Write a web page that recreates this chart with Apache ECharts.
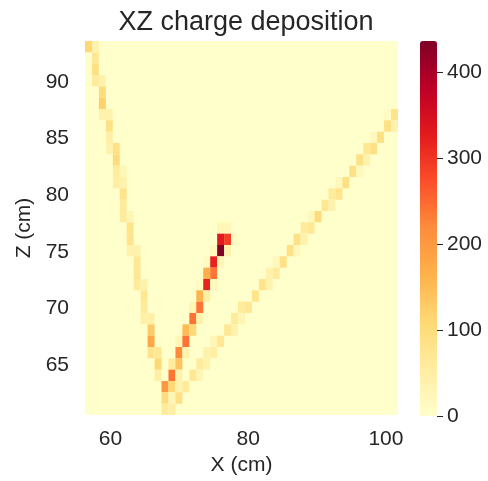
<!DOCTYPE html>
<html>
<head>
<meta charset="utf-8">
<script src="https://cdn.jsdelivr.net/npm/echarts@6/dist/echarts.min.js"></script>
<style>
  html, body { margin: 0; padding: 0; background: #fff; }
  #chart { width: 488px; height: 481px; }
</style>
</head>
<body>
<div id="chart"></div>
<script>
// binning of the detector plane (cm)
const X_MIN = 56.3, X_BIN = 1.01, X_BINS = 45;
const Z_MIN = 60.6, Z_BIN = 1.0, Z_BINS = 33;

// cells as [xBin, zBin, charge], zBin counted from the bottom row
const leftTrack = [
  [0, 32, 110], [1, 32, 40], [1, 31, 70], [1, 30, 90], [1, 29, 60], [2, 29, 40],
  [2, 28, 100], [2, 27, 120], [2, 26, 40], [3, 26, 40], [3, 25, 90], [3, 24, 50],
  [3, 23, 40], [4, 23, 90], [4, 22, 100], [4, 21, 60], [5, 21, 25], [4, 20, 50],
  [5, 20, 40], [5, 19, 80], [5, 18, 60], [5, 17, 60], [6, 17, 30], [6, 16, 80],
  [6, 15, 80], [6, 14, 40], [7, 14, 40], [7, 13, 70], [7, 12, 70], [7, 11, 60],
  [8, 11, 40], [8, 10, 70], [8, 9, 60], [8, 8, 45], [9, 8, 45], [9, 7, 130],
  [9, 6, 180], [9, 5, 80], [10, 5, 70], [10, 4, 110], [10, 3, 50], [11, 2, 200],
  [11, 1, 100], [11, 0, 60], [12, 0, 50]
];

const muonTrack = [
  [19, 16, 25], [20, 16, 25], [19, 15, 330], [20, 15, 290], [21, 15, 15],
  [18, 14, 20], [19, 14, 436], [20, 14, 40], [17, 13, 15], [18, 13, 320], [19, 13, 30],
  [17, 12, 170], [18, 12, 240], [16, 11, 15], [17, 11, 320], [18, 11, 20],
  [16, 10, 160], [17, 10, 50], [15, 9, 30], [16, 9, 240], [15, 8, 240], [16, 8, 40],
  [14, 7, 150], [15, 7, 110], [13, 6, 30], [14, 6, 240], [13, 5, 220], [14, 5, 40],
  [12, 4, 60], [13, 4, 140], [12, 3, 240], [13, 3, 40], [12, 2, 110], [13, 2, 40],
  [12, 1, 30]
];

const rightTrack = [
  [43, 26, 15], [44, 26, 80], [43, 25, 90], [44, 25, 40], [41, 24, 20], [42, 24, 90],
  [40, 23, 70], [41, 23, 90], [39, 22, 90], [40, 22, 40], [38, 21, 90], [39, 21, 20],
  [36, 20, 20], [37, 20, 90], [35, 19, 60], [36, 19, 80], [34, 18, 70], [35, 18, 40],
  [32, 17, 20], [33, 17, 100], [31, 16, 60], [32, 16, 70], [30, 15, 90], [31, 15, 40],
  [29, 14, 90], [30, 14, 20], [27, 13, 20], [28, 13, 90], [26, 12, 40], [27, 12, 60],
  [25, 11, 80], [26, 11, 40], [24, 10, 80], [22, 9, 60], [23, 9, 70], [21, 8, 60],
  [22, 8, 30], [20, 7, 70], [21, 7, 40], [18, 6, 30], [19, 6, 70], [17, 5, 40],
  [18, 5, 50], [16, 4, 60], [17, 4, 40], [15, 3, 70], [16, 3, 30], [14, 2, 60],
  [13, 1, 90]
];

const xTicks = [60, 80, 100];
const zTicks = [65, 70, 75, 80, 85, 90];
const cbarTicks = [0, 100, 200, 300, 400];
const Q_MAX = 436;

const YLORRD = ['#ffffcc', '#ffeda0', '#fed976', '#feb24c', '#fd8d3c',
                '#fc4e2a', '#e31a1c', '#bd0026', '#800026'];

const cells = [...leftTrack, ...muonTrack, ...rightTrack].map(([ix, iz, q]) => [
  X_MIN + (ix + 0.5) * X_BIN,
  Z_MIN + (iz + 0.5) * Z_BIN,
  q
]);

const FONT = "'Liberation Sans', Arial, sans-serif";
const TXT = '#262626';

const chart = echarts.init(document.getElementById('chart'));

chart.setOption({
  animation: false,
  title: {
    text: 'XZ charge deposition',
    left: 241, top: 4,
    textAlign: 'center',
    textStyle: { fontFamily: FONT, fontSize: 27, fontWeight: 'normal', color: TXT }
  },
  grid: [
    { left: 85, top: 41, width: 313, height: 375, show: true, backgroundColor: YLORRD[0], borderWidth: 0 },
    { left: 420, top: 41, width: 17, height: 375, show: false }
  ],
  xAxis: [{
    type: 'value', gridIndex: 0,
    min: X_MIN, max: X_MIN + X_BINS * X_BIN,
    name: 'X (cm)', nameLocation: 'middle', nameGap: 40,
    nameTextStyle: { fontFamily: FONT, fontSize: 21, color: TXT },
    axisLine: { show: false }, axisTick: { show: false }, splitLine: { show: false },
    axisLabel: { customValues: xTicks, fontFamily: FONT, fontSize: 21, color: TXT, margin: 14 }
  }, {
    type: 'value', gridIndex: 1, min: 0, max: 1, show: false
  }],
  yAxis: [{
    type: 'value', gridIndex: 0,
    min: Z_MIN, max: Z_MIN + Z_BINS * Z_BIN,
    name: 'Z (cm)', nameLocation: 'middle', nameGap: 48,
    nameTextStyle: { fontFamily: FONT, fontSize: 21, color: TXT },
    axisLine: { show: false }, axisTick: { show: false }, splitLine: { show: false },
    axisLabel: { customValues: zTicks, fontFamily: FONT, fontSize: 21, color: TXT, margin: 16 }
  }, {
    type: 'value', gridIndex: 1, position: 'right', z: 10,
    min: 0, max: Q_MAX,
    axisLine: { show: false, onZero: false }, splitLine: { show: false },
    axisTick: { show: true, customValues: cbarTicks, length: 6, lineStyle: { color: TXT, width: 1 } },
    axisLabel: { customValues: cbarTicks, fontFamily: FONT, fontSize: 21, color: TXT, margin: 10 }
  }],
  visualMap: {
    type: 'continuous',
    seriesIndex: 0, dimension: 2,
    min: 0, max: Q_MAX,
    calculable: false, realtime: false,
    orient: 'vertical',
    left: 420, top: 41, padding: 0,
    itemWidth: 17, itemHeight: 375,
    text: null, showLabel: false,
    inRange: { color: YLORRD }
  },
  series: [{
    type: 'custom',
    xAxisIndex: 0, yAxisIndex: 0,
    data: cells,
    renderItem: (params, api) => {
      const p0 = api.coord([api.value(0) - X_BIN / 2, api.value(1) + Z_BIN / 2]);
      const p1 = api.coord([api.value(0) + X_BIN / 2, api.value(1) - Z_BIN / 2]);
      return {
        type: 'rect',
        shape: { x: p0[0], y: p0[1], width: p1[0] - p0[0], height: p1[1] - p0[1] },
        style: { fill: api.visual('color') }
      };
    }
  }]
});
</script>
</body>
</html>
